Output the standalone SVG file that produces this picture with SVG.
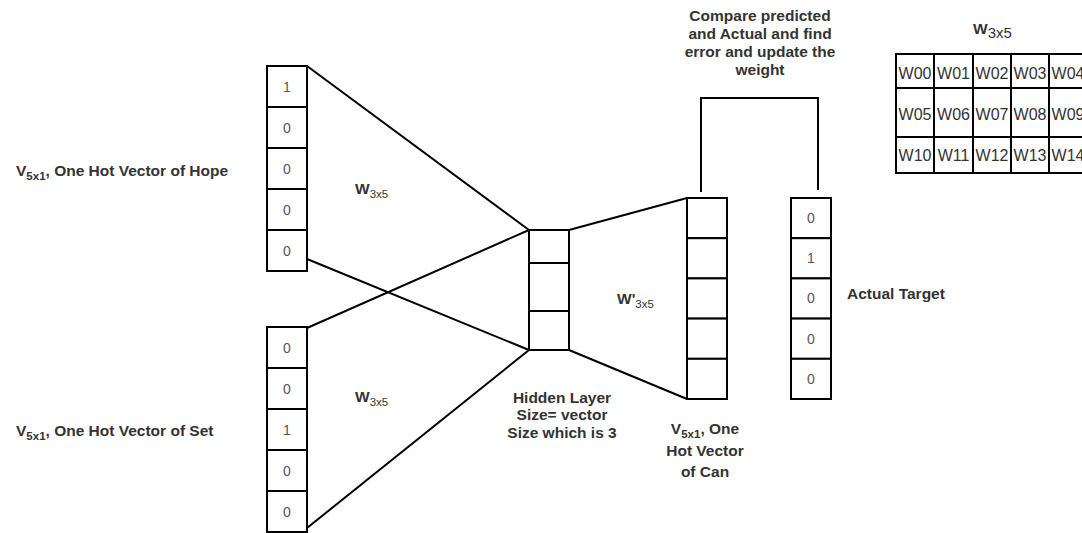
<svg xmlns="http://www.w3.org/2000/svg" width="1082" height="533" viewBox="0 0 1082 533">
  <style>
    .cell { fill: #ffffff; stroke: #000000; stroke-width: 2; }
    .wire { fill: none; stroke: #000000; stroke-width: 2; }
    .lbl { font-family: "Liberation Sans", Arial, sans-serif; font-size: 15.5px; font-weight: bold; fill: #333333; }
    .sub { font-size: 11.5px; }
    .val { font-family: "Liberation Sans", Arial, sans-serif; font-size: 14px; fill: #555555; text-anchor: middle; }
    .mat { font-family: "Liberation Sans", Arial, sans-serif; font-size: 16px; fill: #333333; text-anchor: middle; }
  </style>

  <!-- connectors -->
  <g id="connectors">
    <line class="wire" x1="307" y1="66" x2="529" y2="230"/>
    <line class="wire" x1="307" y1="259" x2="529" y2="350"/>
    <line class="wire" x1="307" y1="328" x2="529" y2="230"/>
    <line class="wire" x1="307" y1="528" x2="529" y2="350"/>
    <line class="wire" x1="569" y1="230" x2="687" y2="198"/>
    <line class="wire" x1="569" y1="350" x2="687" y2="399"/>
    <polyline class="wire" points="701,192 701,98 818,98 818,190"/>
  </g>

  <!-- input vector: Hope -->
  <g id="input-hope">
    <rect class="cell" x="267" y="66" width="40" height="41"/>
    <rect class="cell" x="267" y="107" width="40" height="41"/>
    <rect class="cell" x="267" y="148" width="40" height="41"/>
    <rect class="cell" x="267" y="189" width="40" height="41"/>
    <rect class="cell" x="267" y="230" width="40" height="41"/>
    <text class="val" x="287" y="91.5">1</text>
    <text class="val" x="287" y="132.5">0</text>
    <text class="val" x="287" y="173.5">0</text>
    <text class="val" x="287" y="214.5">0</text>
    <text class="val" x="287" y="255.5">0</text>
  </g>
  <g id="label-hope">
    <text class="lbl" x="16" y="175.5">V<tspan class="sub" dy="4">5x1</tspan><tspan dy="-4">, One Hot Vector of Hope</tspan></text>
  </g>

  <!-- input vector: Set -->
  <g id="input-set">
    <rect class="cell" x="267" y="327" width="40" height="41"/>
    <rect class="cell" x="267" y="368" width="40" height="41"/>
    <rect class="cell" x="267" y="409" width="40" height="41"/>
    <rect class="cell" x="267" y="450" width="40" height="41"/>
    <rect class="cell" x="267" y="491" width="40" height="41"/>
    <text class="val" x="287" y="352.5">0</text>
    <text class="val" x="287" y="393.5">0</text>
    <text class="val" x="287" y="434.5">1</text>
    <text class="val" x="287" y="475.5">0</text>
    <text class="val" x="287" y="516.5">0</text>
  </g>
  <g id="label-set">
    <text class="lbl" x="16" y="435.5">V<tspan class="sub" dy="4">5x1</tspan><tspan dy="-4">, One Hot Vector of Set</tspan></text>
  </g>

  <!-- weight labels -->
  <g id="weight-top">
    <text class="lbl" x="355" y="194">W<tspan class="sub" dy="4" font-weight="normal">3x5</tspan></text>
  </g>
  <g id="weight-bottom">
    <text class="lbl" x="355" y="402">W<tspan class="sub" dy="4" font-weight="normal">3x5</tspan></text>
  </g>
  <g id="weight-out">
    <text class="lbl" x="617" y="304">W'<tspan class="sub" dy="4" font-weight="normal">3x5</tspan></text>
  </g>

  <!-- hidden layer -->
  <g id="hidden-layer">
    <rect class="cell" x="529" y="230" width="40" height="33"/>
    <rect class="cell" x="529" y="263" width="40" height="48"/>
    <rect class="cell" x="529" y="311" width="40" height="39"/>
    <text class="lbl" x="562" y="402.5" text-anchor="middle">Hidden Layer</text>
    <text class="lbl" x="562" y="420" text-anchor="middle">Size= vector</text>
    <text class="lbl" x="562" y="438" text-anchor="middle">Size which is 3</text>
  </g>

  <!-- output vector: Can -->
  <g id="output-can">
    <rect class="cell" x="687" y="198" width="40" height="40.2"/>
    <rect class="cell" x="687" y="238.2" width="40" height="40.2"/>
    <rect class="cell" x="687" y="278.4" width="40" height="40.2"/>
    <rect class="cell" x="687" y="318.6" width="40" height="40.2"/>
    <rect class="cell" x="687" y="358.8" width="40" height="40.2"/>
    <text class="lbl" x="705" y="433.5" text-anchor="middle">V<tspan class="sub" dy="4">5x1</tspan><tspan dy="-4">, One</tspan></text>
    <text class="lbl" x="705" y="455.5" text-anchor="middle">Hot Vector</text>
    <text class="lbl" x="705" y="477" text-anchor="middle">of Can</text>
  </g>

  <!-- actual target vector -->
  <g id="target">
    <rect class="cell" x="791" y="198" width="40" height="40.2"/>
    <rect class="cell" x="791" y="238.2" width="40" height="40.2"/>
    <rect class="cell" x="791" y="278.4" width="40" height="40.2"/>
    <rect class="cell" x="791" y="318.6" width="40" height="40.2"/>
    <rect class="cell" x="791" y="358.8" width="40" height="40.2"/>
    <text class="val" x="811" y="223">0</text>
    <text class="val" x="811" y="263.2">1</text>
    <text class="val" x="811" y="303.4">0</text>
    <text class="val" x="811" y="343.6">0</text>
    <text class="val" x="811" y="383.8">0</text>
    <text class="lbl" x="847" y="298.5">Actual Target</text>
  </g>

  <!-- comparison note -->
  <g id="compare-note">
    <text class="lbl" x="760" y="20.5" text-anchor="middle">Compare predicted</text>
    <text class="lbl" x="760" y="38.5" text-anchor="middle">and Actual and find</text>
    <text class="lbl" x="760" y="57" text-anchor="middle">error and update the</text>
    <text class="lbl" x="760" y="75" text-anchor="middle">weight</text>
  </g>

  <!-- weight matrix -->
  <g id="weight-matrix">
    <text class="lbl" x="973" y="34" font-size="17px">W<tspan dy="4" font-size="15px" font-weight="normal">3x5</tspan></text>
    <rect class="cell" x="896" y="54" width="38" height="34"/>
    <rect class="cell" x="934" y="54" width="39" height="34"/>
    <rect class="cell" x="973" y="54" width="38" height="34"/>
    <rect class="cell" x="1011" y="54" width="38" height="34"/>
    <rect class="cell" x="1049" y="54" width="38" height="34"/>
    <rect class="cell" x="896" y="88" width="38" height="49"/>
    <rect class="cell" x="934" y="88" width="39" height="49"/>
    <rect class="cell" x="973" y="88" width="38" height="49"/>
    <rect class="cell" x="1011" y="88" width="38" height="49"/>
    <rect class="cell" x="1049" y="88" width="38" height="49"/>
    <rect class="cell" x="896" y="137" width="38" height="36"/>
    <rect class="cell" x="934" y="137" width="39" height="36"/>
    <rect class="cell" x="973" y="137" width="38" height="36"/>
    <rect class="cell" x="1011" y="137" width="38" height="36"/>
    <rect class="cell" x="1049" y="137" width="38" height="36"/>
    <text class="mat" x="915" y="78.5">W00</text>
    <text class="mat" x="953.5" y="78.5">W01</text>
    <text class="mat" x="992" y="78.5">W02</text>
    <text class="mat" x="1030" y="78.5">W03</text>
    <text class="mat" x="1068" y="78.5">W04</text>
    <text class="mat" x="915" y="119.5">W05</text>
    <text class="mat" x="953.5" y="119.5">W06</text>
    <text class="mat" x="992" y="119.5">W07</text>
    <text class="mat" x="1030" y="119.5">W08</text>
    <text class="mat" x="1068" y="119.5">W09</text>
    <text class="mat" x="915" y="160.5">W10</text>
    <text class="mat" x="953.5" y="160.5">W11</text>
    <text class="mat" x="992" y="160.5">W12</text>
    <text class="mat" x="1030" y="160.5">W13</text>
    <text class="mat" x="1068" y="160.5">W14</text>
  </g>
</svg>
